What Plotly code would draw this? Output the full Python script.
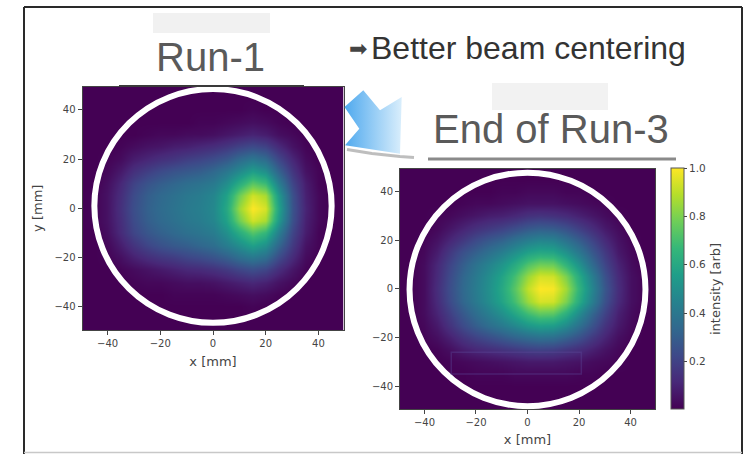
import plotly.graph_objects as go

# Beam-profile grid (mm)
x_mm = [-50, -45, -40, -35, -30, -25, -20, -15, -10, -5, 0, 5, 10, 15, 20, 25, 30, 35, 40, 45, 50]
y_mm = [-50, -45, -40, -35, -30, -25, -20, -15, -10, -5, 0, 5, 10, 15, 20, 25, 30, 35, 40, 45, 50]

# Run-1 intensity, rows follow y_mm (bottom to top)
run1_intensity = [
    [0, 0, 0, 0, 0, 0, 0, 0, 0, 0, 0, 0, 0, 0, 0, 0, 0, 0, 0, 0, 0],
    [0, 0, 0, 0, 0, 0, 0, 0, 0, 0, 0, 0, 0, 0, 0, 0, 0, 0, 0, 0, 0],
    [0, 0, 0, 0, 0, 0, 0, 0, 0, 0, 0, 0, 0, 0.01, 0, 0, 0, 0, 0, 0, 0],
    [0, 0, 0, 0, 0, 0, 0, 0.01, 0.01, 0.01, 0.01, 0.02, 0.03, 0.04, 0.03, 0.01, 0, 0, 0, 0, 0],
    [0, 0, 0, 0, 0.01, 0.02, 0.02, 0.03, 0.04, 0.04, 0.05, 0.07, 0.09, 0.11, 0.09, 0.05, 0.02, 0, 0, 0, 0],
    [0, 0, 0, 0.01, 0.03, 0.05, 0.07, 0.09, 0.11, 0.12, 0.14, 0.17, 0.21, 0.24, 0.21, 0.13, 0.06, 0.01, 0, 0, 0],
    [0, 0, 0.01, 0.04, 0.09, 0.13, 0.16, 0.18, 0.21, 0.23, 0.26, 0.30, 0.36, 0.40, 0.36, 0.23, 0.12, 0.03, 0, 0, 0],
    [0, 0, 0.02, 0.08, 0.15, 0.21, 0.25, 0.28, 0.30, 0.33, 0.36, 0.42, 0.49, 0.56, 0.50, 0.33, 0.17, 0.05, 0.01, 0, 0],
    [0, 0, 0.04, 0.12, 0.21, 0.27, 0.31, 0.34, 0.37, 0.39, 0.42, 0.50, 0.62, 0.73, 0.66, 0.43, 0.21, 0.08, 0.01, 0, 0],
    [0, 0.01, 0.05, 0.13, 0.23, 0.30, 0.34, 0.37, 0.40, 0.42, 0.46, 0.57, 0.78, 0.93, 0.87, 0.54, 0.25, 0.09, 0.02, 0, 0],
    [0, 0.01, 0.05, 0.14, 0.24, 0.31, 0.35, 0.38, 0.41, 0.43, 0.47, 0.60, 0.85, 1.00, 0.94, 0.58, 0.26, 0.10, 0.02, 0, 0],
    [0, 0.01, 0.05, 0.13, 0.23, 0.30, 0.34, 0.37, 0.40, 0.42, 0.46, 0.57, 0.78, 0.93, 0.87, 0.54, 0.25, 0.09, 0.02, 0, 0],
    [0, 0, 0.04, 0.11, 0.20, 0.26, 0.30, 0.33, 0.36, 0.38, 0.41, 0.49, 0.62, 0.74, 0.68, 0.43, 0.21, 0.08, 0.01, 0, 0],
    [0, 0, 0.02, 0.07, 0.14, 0.19, 0.23, 0.26, 0.28, 0.30, 0.34, 0.40, 0.48, 0.56, 0.50, 0.32, 0.16, 0.05, 0.01, 0, 0],
    [0, 0, 0.01, 0.03, 0.08, 0.11, 0.14, 0.16, 0.19, 0.21, 0.24, 0.28, 0.35, 0.40, 0.35, 0.22, 0.11, 0.03, 0, 0, 0],
    [0, 0, 0, 0.01, 0.03, 0.05, 0.06, 0.08, 0.09, 0.11, 0.13, 0.16, 0.20, 0.23, 0.20, 0.12, 0.05, 0.01, 0, 0, 0],
    [0, 0, 0, 0, 0, 0.01, 0.02, 0.02, 0.03, 0.03, 0.04, 0.06, 0.08, 0.10, 0.08, 0.04, 0.02, 0, 0, 0, 0],
    [0, 0, 0, 0, 0, 0, 0, 0, 0, 0.01, 0.01, 0.02, 0.03, 0.04, 0.03, 0.01, 0, 0, 0, 0, 0],
    [0, 0, 0, 0, 0, 0, 0, 0, 0, 0, 0, 0, 0, 0.01, 0, 0, 0, 0, 0, 0, 0],
    [0, 0, 0, 0, 0, 0, 0, 0, 0, 0, 0, 0, 0, 0, 0, 0, 0, 0, 0, 0, 0],
    [0, 0, 0, 0, 0, 0, 0, 0, 0, 0, 0, 0, 0, 0, 0, 0, 0, 0, 0, 0, 0],
]

# End of Run-3 intensity, rows follow y_mm (bottom to top)
run3_intensity = [
    [0, 0, 0, 0, 0, 0, 0, 0, 0, 0, 0, 0, 0, 0, 0, 0, 0, 0, 0, 0, 0],
    [0, 0, 0, 0, 0, 0, 0, 0, 0, 0, 0, 0, 0, 0, 0, 0, 0, 0, 0, 0, 0],
    [0, 0, 0, 0, 0, 0, 0, 0, 0, 0, 0, 0, 0, 0, 0, 0, 0, 0, 0, 0, 0],
    [0, 0, 0, 0, 0, 0, 0.01, 0.01, 0.01, 0.02, 0.02, 0.02, 0.02, 0.02, 0.01, 0.01, 0, 0, 0, 0, 0],
    [0, 0, 0, 0, 0.01, 0.02, 0.03, 0.04, 0.05, 0.06, 0.07, 0.07, 0.07, 0.06, 0.05, 0.03, 0.02, 0.01, 0, 0, 0],
    [0, 0, 0, 0.01, 0.04, 0.08, 0.11, 0.13, 0.15, 0.17, 0.19, 0.20, 0.19, 0.16, 0.13, 0.09, 0.05, 0.02, 0, 0, 0],
    [0, 0, 0.01, 0.04, 0.09, 0.15, 0.20, 0.24, 0.28, 0.32, 0.35, 0.37, 0.36, 0.31, 0.25, 0.17, 0.10, 0.04, 0.01, 0, 0],
    [0, 0, 0.02, 0.07, 0.15, 0.23, 0.30, 0.36, 0.41, 0.47, 0.53, 0.56, 0.55, 0.48, 0.37, 0.26, 0.15, 0.07, 0.02, 0, 0],
    [0, 0, 0.03, 0.10, 0.19, 0.28, 0.36, 0.43, 0.50, 0.59, 0.69, 0.75, 0.74, 0.63, 0.48, 0.33, 0.20, 0.09, 0.03, 0, 0],
    [0, 0, 0.03, 0.12, 0.23, 0.33, 0.41, 0.49, 0.58, 0.70, 0.85, 0.94, 0.93, 0.80, 0.61, 0.43, 0.25, 0.12, 0.04, 0.01, 0],
    [0, 0, 0.03, 0.13, 0.24, 0.34, 0.42, 0.50, 0.60, 0.74, 0.91, 1.00, 0.99, 0.86, 0.65, 0.46, 0.27, 0.13, 0.04, 0.01, 0],
    [0, 0, 0.03, 0.12, 0.23, 0.33, 0.41, 0.49, 0.58, 0.70, 0.85, 0.94, 0.93, 0.80, 0.61, 0.43, 0.25, 0.12, 0.04, 0.01, 0],
    [0, 0, 0.03, 0.11, 0.21, 0.30, 0.38, 0.45, 0.52, 0.61, 0.72, 0.78, 0.77, 0.65, 0.51, 0.35, 0.21, 0.10, 0.03, 0, 0],
    [0, 0, 0.02, 0.08, 0.17, 0.25, 0.31, 0.37, 0.43, 0.50, 0.57, 0.60, 0.59, 0.51, 0.40, 0.28, 0.17, 0.07, 0.02, 0, 0],
    [0, 0, 0.01, 0.05, 0.11, 0.17, 0.23, 0.28, 0.32, 0.38, 0.43, 0.46, 0.45, 0.38, 0.30, 0.21, 0.12, 0.05, 0.01, 0, 0],
    [0, 0, 0, 0.02, 0.06, 0.10, 0.14, 0.17, 0.20, 0.24, 0.28, 0.30, 0.29, 0.25, 0.19, 0.13, 0.07, 0.03, 0, 0, 0],
    [0, 0, 0, 0.01, 0.02, 0.04, 0.06, 0.08, 0.09, 0.11, 0.14, 0.15, 0.14, 0.12, 0.09, 0.06, 0.03, 0.01, 0, 0, 0],
    [0, 0, 0, 0, 0, 0.01, 0.02, 0.02, 0.03, 0.04, 0.05, 0.05, 0.05, 0.04, 0.03, 0.02, 0.01, 0, 0, 0, 0],
    [0, 0, 0, 0, 0, 0, 0, 0, 0.01, 0.01, 0.02, 0.02, 0.02, 0.01, 0.01, 0, 0, 0, 0, 0, 0],
    [0, 0, 0, 0, 0, 0, 0, 0, 0, 0, 0, 0, 0, 0, 0, 0, 0, 0, 0, 0, 0],
    [0, 0, 0, 0, 0, 0, 0, 0, 0, 0, 0, 0, 0, 0, 0, 0, 0, 0, 0, 0, 0],
]

axis_ticks = [-40, -20, 0, 20, 40]
colorbar_ticks = [0.2, 0.4, 0.6, 0.8, 1.0]

W, H = 751, 454
TICK_FONT = dict(family="DejaVu Sans", size=10, color="#444444")
TITLE_FONT = dict(family="DejaVu Sans", size=13, color="#444444")
HEAD_FONT = "Liberation Sans, Arial, sans-serif"

fig = go.Figure()

# Slide decoration overlay in pixel units (x3/y3): the blue arrow
fig.add_trace(go.Scatter(
    x=[363.3, 380, 401.7, 400, 345, 359.3, 344.5, 363.3],
    y=[90.3, 110.3, 97, 153.7, 145.3, 128.7, 107, 90.3],
    mode="lines", fill="toself", line=dict(width=0, color="rgba(0,0,0,0)"),
    fillgradient=dict(type="horizontal",
                      colorscale=[[0, "#4fa9ee"], [1, "#d9eefc"]]),
    xaxis="x3", yaxis="y3", hoverinfo="skip", showlegend=False,
))
# soft shadow beneath the arrow
fig.add_trace(go.Scatter(
    x=[347, 372, 400, 414], y=[149.5, 153.5, 156.5, 157.5],
    mode="lines", line=dict(width=3, color="rgba(110,110,110,0.45)"),
    xaxis="x3", yaxis="y3", hoverinfo="skip", showlegend=False,
))

fig.add_trace(go.Heatmap(
    x=x_mm, y=y_mm, z=run1_intensity, zmin=0, zmax=1,
    colorscale="Viridis", zsmooth="best", showscale=False,
    xaxis="x", yaxis="y", hoverinfo="skip",
))
fig.add_trace(go.Heatmap(
    x=x_mm, y=y_mm, z=run3_intensity, zmin=0, zmax=1,
    colorscale="Viridis", zsmooth="best", showscale=True,
    xaxis="x2", yaxis="y2", hoverinfo="skip",
    colorbar=dict(
        x=670.5 / W, xanchor="left", xpad=0, ypad=0,
        y=1 - 288.9 / H, yanchor="middle", len=240.8 / H, lenmode="fraction",
        thickness=12.5, outlinewidth=1, outlinecolor="#555555",
        tickvals=colorbar_ticks, ticktext=["0.2", "0.4", "0.6", "0.8", "1.0"],
        ticks="outside", ticklen=3, tickcolor="#444444",
        tickfont=dict(family="DejaVu Sans", size=10.5, color="#444444"),
        title=dict(text="intensity [arb]", side="right",
                   font=dict(family="DejaVu Sans", size=13, color="#444444")),
    ),
))

def heat_axis(domain, title=None, standoff=5):
    ax = dict(
        domain=domain, range=[-49.5, 49.5], tickvals=axis_ticks,
        ticks="outside", ticklen=4, tickcolor="#444444", tickfont=TICK_FONT,
        showline=True, linecolor="#444444", linewidth=1, mirror=True,
        showgrid=False, zeroline=False, fixedrange=True,
    )
    if title:
        ax["title"] = dict(text=title, font=TITLE_FONT, standoff=standoff)
    return ax

layout = dict(
    width=W, height=H, margin=dict(l=0, r=0, t=0, b=0),
    paper_bgcolor="white", plot_bgcolor="rgba(0,0,0,0)", showlegend=False,
    xaxis=heat_axis([82.5 / W, 343.5 / W], "x [mm]", 8),
    yaxis=heat_axis([1 - 330 / H, 1 - 86.5 / H], "y [mm]", 8),
    xaxis2=heat_axis([400 / W, 655 / W], "x [mm]", 7),
    yaxis2=heat_axis([1 - 409.3 / H, 1 - 168.5 / H]),
    xaxis3=dict(domain=[0, 1], range=[0, W], visible=False, fixedrange=True),
    yaxis3=dict(domain=[0, 1], range=[H, 0], visible=False, fixedrange=True),
)
layout["xaxis2"]["anchor"] = "y2"
layout["yaxis2"]["anchor"] = "x2"
layout["xaxis3"]["anchor"] = "y3"
layout["yaxis3"]["anchor"] = "x3"
fig.update_layout(**layout)

shapes = []
# beam-pipe aperture rings
shapes.append(dict(type="circle", xref="x", yref="y", x0=-45, x1=45, y0=-46.6, y1=48.5,
                   line=dict(color="white", width=6)))
shapes.append(dict(type="circle", xref="x2", yref="y2", x0=-45.8, x1=45.8, y0=-48.2, y1=47.8,
                   line=dict(color="white", width=6)))
# faint outline box inside the Run-3 map
shapes.append(dict(type="rect", xref="x2", yref="y2", x0=-29.6, x1=20.9, y0=-35, y1=-26,
                   line=dict(color="rgba(90,70,150,0.4)", width=1.5)))

# slide frame
shapes.append(dict(type="line", xref="x3", yref="y3", x0=24, x1=24, y0=7, y1=454,
                   line=dict(color="#2a2a2a", width=2)))
shapes.append(dict(type="line", xref="x3", yref="y3", x0=24, x1=742, y0=7, y1=7,
                   line=dict(color="#2a2a2a", width=2)))
shapes.append(dict(type="line", xref="x3", yref="y3", x0=742, x1=742, y0=7, y1=454,
                   line=dict(color="#2a2a2a", width=2)))
shapes.append(dict(type="line", xref="x3", yref="y3", x0=24, x1=742, y0=452.5, y1=452.5,
                   line=dict(color="#c8c8c8", width=1.5)))
# pale label patches
shapes.append(dict(type="rect", xref="x3", yref="y3", x0=153, x1=270, y0=13, y1=33,
                   fillcolor="#f1f1f1", line=dict(width=0), layer="below"))
shapes.append(dict(type="rect", xref="x3", yref="y3", x0=492, x1=608, y0=83, y1=110,
                   fillcolor="#f2f2f2", line=dict(width=0), layer="below"))
# heading underlines
shapes.append(dict(type="line", xref="x3", yref="y3", x0=119, x1=304, y0=86, y1=86,
                   line=dict(color="#3a3a3a", width=2)))
shapes.append(dict(type="line", xref="x3", yref="y3", x0=428, x1=676, y0=159, y1=159,
                   line=dict(color="#8a8a8a", width=3)))
fig.update_layout(shapes=shapes)

annotations = [
    dict(text="Run-1", x=210, y=57, font=dict(family=HEAD_FONT, size=40, color="#5a5a5a")),
    dict(text="End of Run-3", x=551, y=129, font=dict(family=HEAD_FONT, size=40, color="#5a5a5a")),
    dict(text="Better beam centering", x=528, y=48, font=dict(family=HEAD_FONT, size=32, color="#333333")),
    dict(text="➡", x=358, y=48, font=dict(family="DejaVu Sans", size=22, color="#444444")),
]
for a in annotations:
    a.update(xref="x3", yref="y3", showarrow=False, xanchor="center", yanchor="middle")
fig.update_layout(annotations=annotations)

fig.write_html("out.html")
